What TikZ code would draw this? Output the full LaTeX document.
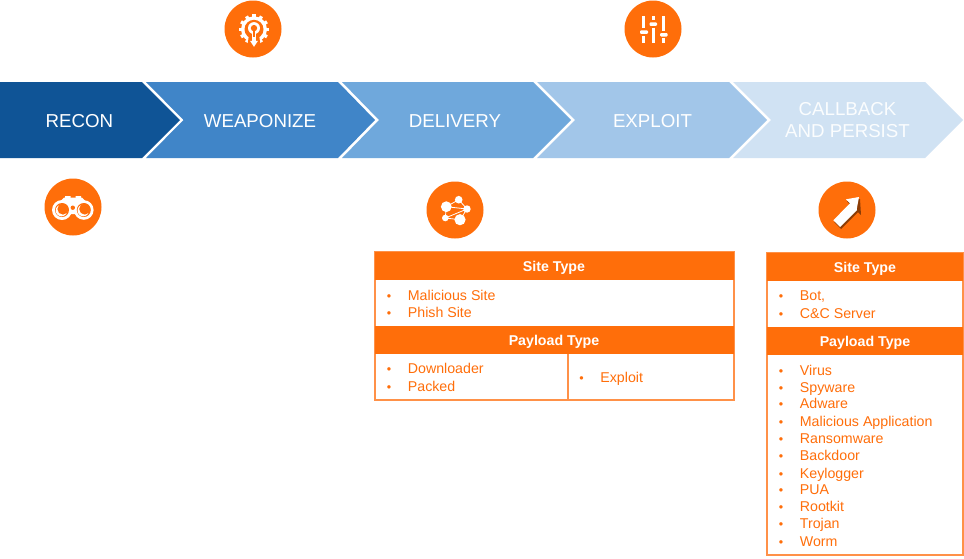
\documentclass[tikz,border=0pt]{standalone}
\usepackage{fontspec}
\setmainfont{Liberation Sans}
\definecolor{org}{HTML}{FF6E0A}
\definecolor{orgl}{HTML}{FF9148}
\definecolor{c1}{HTML}{0F5496}
\definecolor{c2}{HTML}{4085C8}
\definecolor{c3}{HTML}{6FA8DC}
\definecolor{c4}{HTML}{A2C6E9}
\definecolor{c5}{HTML}{D0E2F3}
\tikzset{
  stage/.style={text=white,font=\fontsize{18.7}{22}\selectfont,align=center,inner sep=0pt},
  hdr/.style={fill=org,text=white,font=\bfseries\fontsize{14.2}{17}\selectfont,inner sep=0pt,minimum height=28.5pt},
  hlab/.style={text=white,font=\bfseries\fontsize{14.2}{17}\selectfont,inner sep=0pt},
  txt/.style={text=org,font=\fontsize{14.2}{17}\selectfont,anchor=base west,inner sep=0pt},
  bul/.style={text=org,font=\fontsize{12.5}{14}\selectfont,anchor=base,inner sep=0pt},
  frame/.style={draw=orgl,line width=1.2pt,fill=white},
  badge/.style={circle,fill=org,minimum size=57pt,inner sep=0pt},
  wline/.style={draw=white,line width=3pt},
}
\newcommand{\listrow}[4]{% name, bullet x, baseline y, text
  \node[bul] (#1b) at (#2,#3) {•};
  \node[txt] (#1) at (#2+18.7,#3) {#4};
}
\begin{document}
\begin{tikzpicture}[x=1pt,y=-1pt]
\useasboundingbox (0,0) rectangle (964,558);
\fill[white] (0,0) rectangle (964,558);
% chevrons
\fill[c1] (0,82) -- (142,82) -- (180,120) -- (142,158) -- (0,158) -- cycle;
\fill[c2] (146,82) -- (338,82) -- (375,120) -- (338,158) -- (146,158) -- (183.5,120) -- cycle;
\fill[c3] (342,82) -- (533,82) -- (571,120) -- (533,158) -- (342,158) -- (379,120) -- cycle;
\fill[c4] (537,82) -- (729,82) -- (767,120) -- (729,158) -- (537,158) -- (575,120) -- cycle;
\fill[c5] (733,82) -- (925,82) -- (963,120) -- (925,158) -- (733,158) -- (771,120) -- cycle;
\node[stage] (recon) at (79.3,121) {RECON};
\node[stage] (weaponize) at (260,121) {WEAPONIZE};
\node[stage] (delivery) at (455,121) {DELIVERY};
\node[stage] (exploit) at (652.5,121) {EXPLOIT};
\node[stage,text=white!92!c5] (callback) at (847.5,120.5) {CALLBACK\\AND PERSIST};
% badges
\node[badge] (bweapon) at (253,29) {};
\node[badge] (bexploit) at (653,29) {};
\node[badge] (brecon) at (73,207) {};
\node[badge] (bdelivery) at (455,210) {};
\node[badge] (bcallback) at (847,210) {};
% gear icon
\begin{scope}[shift={(254,29.3)}]
  \foreach \a in {0,30,...,330}
    \fill[white,rotate=\a] (-1.7,-15) rectangle (1.7,-10);
  \fill[white] (0,0) circle (13);
  \fill[org] (0,0) circle (9.5);
  \fill[org] (-5,5) -- (5,5) -- (6.5,16) -- (-6.5,16) -- cycle;
  \fill[white] (0,-1.2) circle (6);
  \fill[org] (0,-1.2) circle (3.2);
  \fill[white] (-1.9,3.5) rectangle (1.9,13);
  \fill[org] (-1,2) rectangle (1,8);
  \fill[white] (-4,11.5) -- (4,11.5) -- (0,17.5) -- cycle;
\end{scope}
% sliders icon
\draw[wline] (643.7,16) -- (643.7,28) (643.7,36) -- (643.7,42.7);
\draw[wline] (653,16) -- (653,20) (653,27.5) -- (653,42.7);
\draw[wline] (663,16) -- (663,31) (663,38.3) -- (663,42.7);
\fill[white,rounded corners=1pt] (640,30.3) rectangle (648,33.8);
\fill[white,rounded corners=1pt] (649.5,22.3) rectangle (657,25.8);
\fill[white,rounded corners=1pt] (660,33) rectangle (667.5,36.5);
% binoculars icon
\fill[white] (65,196) rectangle (70.5,203) (75.5,196) rectangle (81,203);
\fill[white] (58,204) -- (64,197.5) -- (82,197.5) -- (88,204) -- (84,214) -- (62,214) -- cycle;
\fill[white] (62,210) circle (10) (83.8,210) circle (9.8);
\fill[org] (62,210) circle (7) (83.8,210) circle (7);
\fill[white] (61.5,210.5) circle (5.8) (83.3,210.5) circle (5.8);
\fill[org] (63,209) circle (5.6) (84.8,209) circle (5.6);
\fill[org] (72.8,207.7) circle (2.2);
% network icon
\draw[white,line width=0.8pt] (446.3,206.7) -- (458.7,199.7) -- (467,209) -- (460,219.7) -- (445.3,218) -- (446.3,206.7) -- (467,209) -- (445.3,218);
\fill[white] (446.3,206.7) circle (5.4) (458.7,199.7) circle (3.8) (467,209) circle (3.7) (460,219.7) circle (5.6) (445.3,218) circle (3.3);
% arrow icon
\fill[black!60!org,opacity=.75] (860,199) -- (847,201.3) -- (851,205.3) -- (834.3,222.3) -- (841,229) -- (858,212.2) -- (861,215) -- cycle;
\fill[white] (859,197) -- (846,199.3) -- (850,203.3) -- (833.3,220.3) -- (840,227) -- (857,210) -- (856.7,209.3) -- cycle;
% table 1
\path[frame] (375,251.5) rectangle (734,400);
\draw[draw=orgl,line width=1.2pt] (568,354) -- (568,400);
\node[hdr,minimum width=359pt] (t1site) at (554.5,266) {};
\node[hlab] (t1sitel) at (554,267.5) {Site Type};
\node[hdr,minimum width=359pt] (t1pay) at (554.5,340) {};
\node[hlab] (t1payl) at (554,341.5) {Payload Type};
\listrow{a1}{389}{300}{Malicious Site}
\listrow{a2}{389}{317.5}{Phish Site}
\listrow{a3}{389}{373.5}{Downloader}
\listrow{a4}{389}{391}{Packed}
\listrow{a5}{581.5}{382.5}{Exploit}
% table 2
\path[frame] (767,252.5) rectangle (963,555);
\node[hdr,minimum width=196pt] (t2site) at (865,267) {};
\node[hlab] (t2sitel) at (865,268.5) {Site Type};
\node[hdr,minimum width=196pt] (t2pay) at (865,341) {};
\node[hlab] (t2payl) at (865,342.5) {Payload Type};
\listrow{b1}{781}{300}{Bot,}
\listrow{b2}{781}{318}{C\&C Server}
\listrow{c1}{781}{375}{Virus}
\listrow{c2}{781}{392.5}{Spyware}
\listrow{c3}{781}{408.5}{Adware}
\listrow{c4}{781}{426}{Malicious Application}
\listrow{c5}{781}{443}{Ransomware}
\listrow{c6}{781}{460.5}{Backdoor}
\listrow{c7}{781}{478}{Keylogger}
\listrow{c8}{781}{494}{PUA}
\listrow{c9}{781}{511}{Rootkit}
\listrow{c10}{781}{528.5}{Trojan}
\listrow{c11}{781}{546}{Worm}
\end{tikzpicture}
\end{document}
